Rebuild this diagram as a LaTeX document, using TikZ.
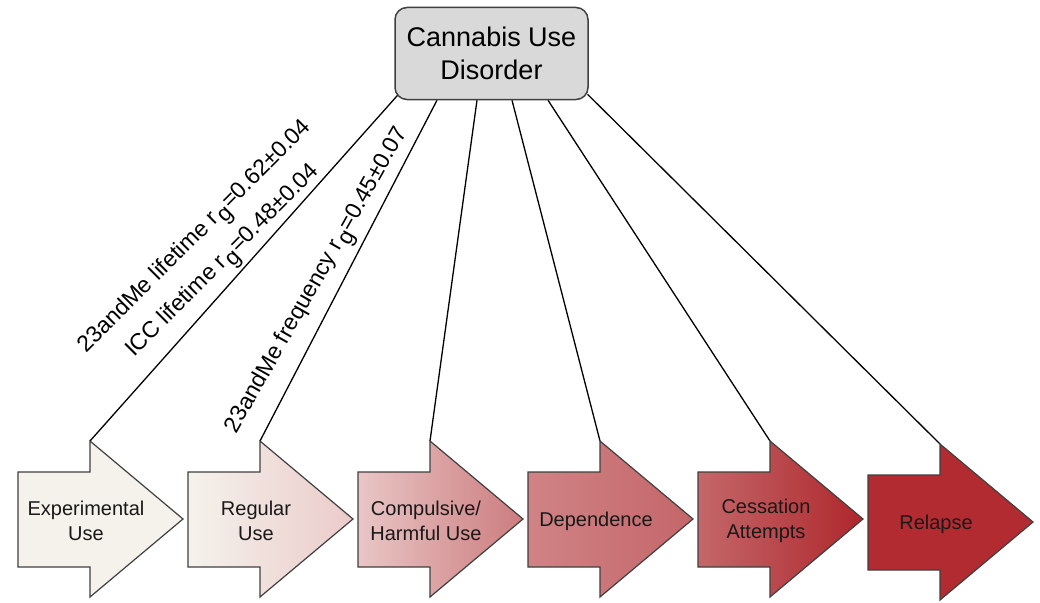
\documentclass[tikz,border=0pt]{standalone}
\usepackage{fontspec}
\setmainfont{Liberation Sans}
\usetikzlibrary{calc}
\pgfdeclarelayer{background}
\pgfdeclarelayer{paper}
\pgfsetlayers{paper,background,main}
\definecolor{cream}{HTML}{F5F2EC}
\definecolor{regR}{HTML}{EBCBCA}
\definecolor{compL}{HTML}{E9C6C6}
\definecolor{compR}{HTML}{CC7C7E}
\definecolor{depL}{HTML}{D08385}
\definecolor{depR}{HTML}{C4666A}
\definecolor{cessL}{HTML}{C4676A}
\definecolor{cessR}{HTML}{AE272C}
\definecolor{relapseC}{HTML}{B22B30}
\definecolor{boxgray}{HTML}{D9D9D9}
\definecolor{edgegray}{HTML}{404040}
\newcommand{\rgsub}{r\kern0.06em\raisebox{-0.28em}{g}}
\newcommand{\stagearrow}[5]{%
  \path[stageline,#4] (#2,472+#3) -- ++(72,0) -- ++(0,-31) -- ++(93,78)
    -- ++(-93,78) -- ++(0,-30) -- ++(-72,0) -- cycle;
  \coordinate (#1top) at (#2+72,441+#3);
  \node[stagetext] (#1) at (#2+68,521+#3) {#5};
}
\begin{document}
\begin{tikzpicture}[x=1pt,y=-1pt,
  stageline/.style={draw=edgegray,line width=1.2pt,line join=miter},
  stagetext/.style={align=center,font=\fontsize{20}{25}\selectfont,text=black!90},
  conn/.style={draw=black,line width=1.3pt},
  rotlabel/.style={anchor=base,font=\fontsize{23}{28}\selectfont,inner sep=0pt}]
\useasboundingbox (0,0) rectangle (1040,602);
\begin{pgfonlayer}{paper}
\fill[white] (0,0) rectangle (1040,602);
\end{pgfonlayer}
\node[draw=edgegray,fill=boxgray,rounded corners=12pt,line width=1.5pt,
  minimum width=193pt,minimum height=92pt,align=center,
  font=\fontsize{27}{33}\selectfont] (cud) at (491.5,53.5) {Cannabis Use\\Disorder};
\stagearrow{a1}{18}{0}{fill=cream}{Experimental\\Use}
\stagearrow{a2}{188}{0}{left color=cream,right color=regR}{Regular\\Use}
\stagearrow{a3}{358}{0}{left color=compL,right color=compR}{Compulsive/\\Harmful Use}
\stagearrow{a4}{528}{0}{left color=depL,right color=depR}{Dependence}
\stagearrow{a5}{698}{0}{left color=cessL,right color=cessR}{Cessation\\Attempts}
\stagearrow{a6}{868}{3}{fill=relapseC}{Relapse}
\begin{pgfonlayer}{background}
\draw[conn] (a1top) -- ($(cud.south)+(-93,-6)$);
\draw[conn] (a2top) -- ($(cud.south)+(-54.5,0)$);
\draw[conn] (a3top) -- ($(cud.south)+(-14.5,0)$);
\draw[conn] (a4top) -- ($(cud.south)+(20.5,0)$);
\draw[conn] (a5top) -- ($(cud.south)+(56.5,0)$);
\draw[conn] (a6top) -- ($(cud.south)+(96,-6)$);
\node[rotlabel,rotate=45] (lab1) at (199,241) {23andMe lifetime \rgsub=0.62±0.04};
\node[rotlabel,rotate=45] (lab2) at (227,265) {ICC lifetime \rgsub=0.48±0.04};
\node[rotlabel,rotate=60.5] (lab3) at (322,283) {23andMe frequency \rgsub=0.45±0.07};
\end{pgfonlayer}
\end{tikzpicture}
\end{document}
